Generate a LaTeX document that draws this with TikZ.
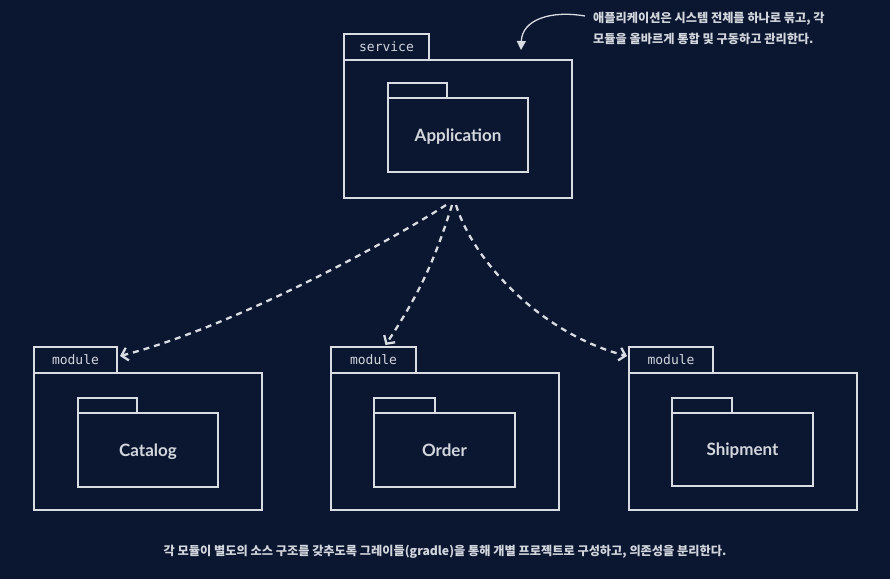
\documentclass[tikz,border=0pt]{standalone}
\usepackage{fontspec}
\setmainfont{Lato}
\newfontfamily\kr{Noto Sans CJK KR}
\newfontfamily\lab{Lato}
\newfontfamily\mono{DejaVu Sans Mono}
\usetikzlibrary{arrows.meta,calc}
\definecolor{bg}{HTML}{0B1631}
\definecolor{fg}{HTML}{D8DCE3}
\definecolor{tx}{HTML}{D2D6DD}
\begin{document}
\begin{tikzpicture}[x=1pt,y=-1pt,
  body/.style={draw=fg, line width=1.9pt, anchor=north west, inner sep=0pt, outer sep=0pt,
    text=tx, text height=12pt, text depth=0pt, font=\lab\bfseries\fontsize{17}{20}\selectfont},
  tabbox/.style={draw=fg, line width=1.9pt, anchor=south west, inner sep=0pt, outer sep=0pt,
    minimum height=26pt, text=tx, font=\mono\fontsize{13}{15}\selectfont},
  itab/.style={draw=fg, line width=1.9pt, anchor=south west, inner sep=0pt, outer sep=0pt,
    minimum height=15pt},
  dep/.style={draw=fg, line width=2.3pt, dash pattern=on 6pt off 5pt,
    -{Straight Barb[length=6pt,width=13pt]}},
  notearrow/.style={draw=fg, line width=1.3pt, -{Triangle[length=9pt,width=9pt]}},
  txt/.style={text=tx, inner sep=0pt, font=\kr\bfseries\fontsize{12.2}{21}\selectfont}
]
\fill[bg] (0,0) rectangle (890,579);
\useasboundingbox (0,0) rectangle (890,579);

% service package
\node[body, minimum width=228pt, minimum height=138pt] (svc) at (344,60) {};
\node[tabbox, minimum width=85pt] (svctab) at (svc.north west) {service};
\node[body, minimum width=140pt, minimum height=74pt] (app) at (388,98) {Application};
\node[itab, minimum width=59pt] (apptab) at (app.north west) {};

% catalog module
\node[body, minimum width=228pt, minimum height=137pt] (catm) at (34,373) {};
\node[tabbox, minimum width=83pt] (cattab) at (catm.north west) {module};
\node[body, minimum width=140pt, minimum height=74pt] (cat) at (78,413) {Catalog};
\node[itab, minimum width=59pt] (cattab2) at (cat.north west) {};

% order module
\node[body, minimum width=228pt, minimum height=137pt] (ordm) at (331,373) {};
\node[tabbox, minimum width=85pt] (ordtab) at (ordm.north west) {module};
\node[body, minimum width=141pt, minimum height=74pt] (ord) at (374,413) {Order};
\node[itab, minimum width=61pt] (ordtab2) at (ord.north west) {};

% shipment module
\node[body, minimum width=228pt, minimum height=137pt] (shpm) at (629,373) {};
\node[tabbox, minimum width=84pt] (shptab) at (shpm.north west) {module};
\node[body, minimum width=141pt, minimum height=73pt] (shp) at (672,413) {Shipment};
\node[itab, minimum width=60pt] (shptab2) at (shp.north west) {};

% dependency arrows
\coordinate (o1) at (446,205);
\coordinate (o2) at (452,205);
\coordinate (o3) at (456,205);
\draw[dep] (o1) .. controls (400,235) and (240,325) .. ($(cattab.east)+(3,-4)$);
\draw[dep] (o2) to[bend left=8] ($(ordtab.north)+(12,-2)$);
\draw[dep] (o3) .. controls (475,265) and (545,335) .. ($(shptab.west)+(-2,-4)$);

% annotation
\node[txt, anchor=north west, align=left] (note) at (593,12)
  {애플리케이션은 시스템 전체를 하나로 묶고, 각\\모듈을 올바르게 통합 및 구동하고 관리한다.};
\coordinate (nstart) at (585,16);
\coordinate (ntip) at (521,50);
\draw[notearrow] (nstart) .. controls (550,10) and (522,20) .. (ntip);

% caption
\node[txt] (cap) at (445,552)
  {각 모듈이 별도의 소스 구조를 갖추도록 그레이들(gradle)을 통해 개별 프로젝트로 구성하고, 의존성을 분리한다.};
\end{tikzpicture}
\end{document}
